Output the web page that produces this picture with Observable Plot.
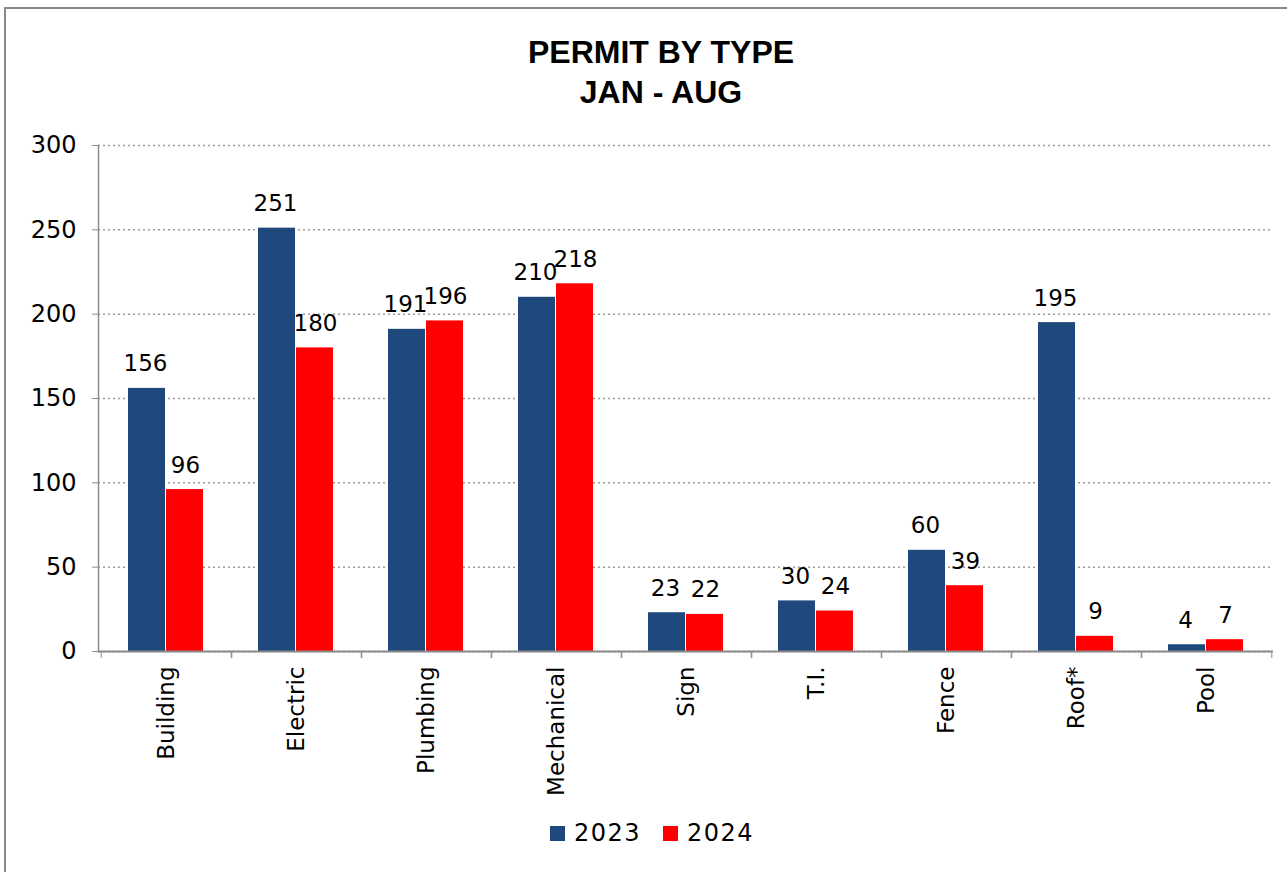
<!DOCTYPE html>
<html>
<head>
<meta charset="utf-8">
<script src="https://cdn.jsdelivr.net/npm/d3@7"></script>
<script src="https://cdn.jsdelivr.net/npm/@observablehq/plot@0.6"></script>
<style>
  html, body { margin: 0; padding: 0; background: #fff; }
  body { width: 1287px; height: 872px; position: relative; overflow: hidden; font-family: "DejaVu Sans", sans-serif; }
  #border { position: absolute; left: 4px; top: 7px; width: 1400px; height: 1000px; border-left: 2px solid #8a8a8a; border-top: 2px solid #8a8a8a; }
  #chart { position: absolute; left: 0; top: 0; }
  #title { position: absolute; left: 0; width: 1322px; top: 32px; text-align: center; font-family: "Liberation Sans", sans-serif; font-weight: bold; font-size: 32px; line-height: 40px; color: #000; }
  #legend { position: absolute; top: 819px; left: 0; width: 1304px; display: flex; justify-content: center; gap: 22px; font-size: 24px; letter-spacing: 1.5px; color: #000; }
  #legend .item { display: flex; align-items: center; }
  #legend .sw { width: 15px; height: 15px; margin-right: 9px; }
</style>
</head>
<body>
<div id="border"></div>
<div id="chart"></div>
<div id="title">PERMIT BY TYPE<br>JAN - AUG</div>
<div id="legend"></div>
<script>
const categories = ["Building", "Electric", "Plumbing", "Mechanical", "Sign", "T.I.", "Fence", "Roof*", "Pool"];
const values2023 = [156, 251, 191, 210, 23, 30, 60, 195, 4];
const values2024 = [96, 180, 196, 218, 22, 24, 39, 9, 7];
const years = ["2023", "2024"];
const colors = ["#1f497d", "#ff0000"];
const yTicks = [0, 50, 100, 150, 200, 250, 300];

const rows2023 = categories.map((c, i) => ({category: c, value: values2023[i]}));
const rows2024 = categories.map((c, i) => ({category: c, value: values2024[i]}));

const labelFont = {fontSize: 23, fill: "#000", lineAnchor: "bottom"};

const chart = Plot.plot({
  width: 1287,
  height: 872,
  marginTop: 145,
  marginBottom: 221,
  marginLeft: 98,
  marginRight: 14,
  style: {fontFamily: "DejaVu Sans, sans-serif", background: "transparent"},
  x: {domain: categories, padding: 0, label: null},
  y: {domain: [0, 300], label: null},
  marks: [
    Plot.gridY(yTicks, {stroke: "#9a9a9a", strokeOpacity: 1, strokeDasharray: "2,3", strokeWidth: 1.5}),
    Plot.barY(rows2023, {x: "category", y: "value", fill: colors[0], insetLeft: 27, insetRight: 66}),
    Plot.barY(rows2024, {x: "category", y: "value", fill: colors[1], insetLeft: 65, insetRight: 28}),
    Plot.text(rows2023, {x: "category", y: "value", text: d => String(d.value), dx: -21, dy: -17, ...labelFont}),
    Plot.text(rows2024, {x: "category", y: "value", text: d => String(d.value), dx: 19, dy: -17, ...labelFont}),
    Plot.frame({anchor: "left", stroke: "#8a8a8a", strokeWidth: 1.5}),
    Plot.ruleY([0], {stroke: "#8a8a8a", strokeWidth: 2}),
    Plot.axisY({ticks: yTicks, tickSize: 6, tickPadding: 16, stroke: "#8a8a8a", fontSize: 24, letterSpacing: 0.6, color: "#000", label: null}),
    Plot.axisX({tickSize: 7, text: null, dx: -65.3, stroke: "#8a8a8a", label: null}),
    Plot.axisX({tickSize: 7, text: null, dx: 65.3, stroke: "#8a8a8a", label: null}),
    Plot.axisX({tickSize: 0, tickPadding: 15, tickRotate: -90, fontSize: 23, fill: "#000", label: null})
  ]
});
document.getElementById("chart").appendChild(chart);

const legend = document.getElementById("legend");
years.forEach((y, i) => {
  const item = document.createElement("div");
  item.className = "item";
  const sw = document.createElement("div");
  sw.className = "sw";
  sw.style.background = colors[i];
  const t = document.createElement("span");
  t.textContent = y;
  item.appendChild(sw);
  item.appendChild(t);
  legend.appendChild(item);
});
</script>
</body>
</html>
